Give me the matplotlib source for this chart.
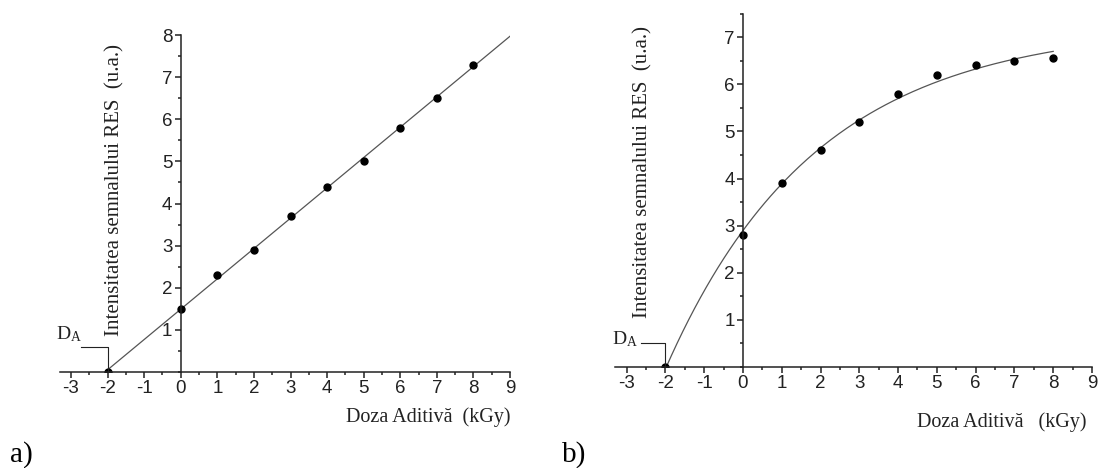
import numpy as np
import matplotlib
matplotlib.use("Agg")
import matplotlib.pyplot as plt
from matplotlib.ticker import MultipleLocator

# data
doza = [0, 1, 2, 3, 4, 5, 6, 7, 8]
res_a = [1.5, 2.3, 2.9, 3.7, 4.4, 5.0, 5.8, 6.5, 7.3]
res_b = [2.8, 3.9, 4.6, 5.2, 5.8, 6.2, 6.4, 6.5, 6.55]
doza_aditiva = -2.0          # extrapolated D_A (x where signal = 0)
x_ticks = [-3, -2, -1, 0, 1, 2, 3, 4, 5, 6, 7, 8, 9]
y_ticks_a = [1, 2, 3, 4, 5, 6, 7, 8]
y_ticks_b = [1, 2, 3, 4, 5, 6, 7]

plt.rcParams['mathtext.fontset'] = 'stix'
plt.rcParams['axes.unicode_minus'] = False
SANS = 'Liberation Sans'
SERIF = 'Liberation Serif'
LINE_C = '#555555'
INK = '#222222'

fig = plt.figure(figsize=(10.99, 4.68), dpi=100)
ax_a = fig.add_axes([0.0546, 0.2051, 0.4095, 0.720])
ax_b = fig.add_axes([0.5596, 0.2158, 0.434, 0.755])


def style_axes(ax, ymax, yticks):
    ax.set_xlim(-3.3, 9)
    ax.set_ylim(0, ymax)
    for s in ['top', 'right']:
        ax.spines[s].set_visible(False)
    ax.spines['left'].set_position(('data', 0))
    ax.spines['bottom'].set_position(('data', 0))
    for s in ['left', 'bottom']:
        ax.spines[s].set_linewidth(1.1)
        ax.spines[s].set_color(INK)
    ax.set_xticks(x_ticks)
    ax.set_yticks(yticks)
    ax.xaxis.set_minor_locator(MultipleLocator(0.5))
    ax.yaxis.set_minor_locator(MultipleLocator(0.5))
    ax.tick_params(which='major', direction='out', length=4, width=1.1,
                   color=INK, labelsize=13.5, pad=2)
    ax.tick_params(which='minor', direction='out', length=2.5, width=1.1,
                   color=INK)
    for lab in ax.get_xticklabels() + ax.get_yticklabels():
        lab.set_family(SANS)
        lab.set_color(INK)
    ax.patch.set_alpha(0)


def mark_da(ax, text_x, text_y, bracket_x, bracket_y):
    ax.text(text_x, text_y, r'D$_{\mathregular{A}}$', family=SERIF,
            fontsize=14, color=INK, ha='left', va='baseline', clip_on=False)
    ax.plot([bracket_x, doza_aditiva, doza_aditiva], [bracket_y, bracket_y, 0],
            color=INK, lw=0.8, clip_on=False)


# ---- panel a: linear fit including the extrapolated point
xa = np.array([doza_aditiva] + doza)
ya = np.array([0.0] + res_a)
k, b0 = np.polyfit(xa, ya, 1)
xl = np.array([doza_aditiva, 9])
ax_a.plot(xl, k * xl + b0, color=LINE_C, lw=0.9)
ax_a.plot(xa, ya, 'o', color='black', ms=5)
style_axes(ax_a, 8, y_ticks_a)
mark_da(ax_a, -3.42, 0.78, -2.72, 0.59)
ax_a.set_ylabel('Intensitatea semnalului RES  (u.a.)', family=SERIF,
                fontsize=15, color=INK)
ax_a.yaxis.set_label_coords(0.144, 0.54)
ax_a.text(9, -1.07, 'Doza Aditivă  (kGy)', family=SERIF, fontsize=14.5,
          ha='right', va='center', color=INK)

# ---- panel b: saturating exponential y = A - B*exp(-x/t)
xb = np.array([doza_aditiva] + doza)
yb = np.array([0.0] + res_b)
best = None
for t in np.linspace(1, 10, 901):
    M = np.column_stack([np.ones_like(xb), -np.exp(-xb / t)])
    coef, *_ = np.linalg.lstsq(M, yb, rcond=None)
    err = np.sum((M @ coef - yb) ** 2)
    if best is None or err < best[0]:
        best = (err, coef, t)
_, (A, B), t_fit = best
xc = np.linspace(doza_aditiva, 8, 200)
ax_b.plot(xc, A - B * np.exp(-xc / t_fit), color=LINE_C, lw=0.9)
ax_b.plot(xb, yb, 'o', color='black', ms=5)
style_axes(ax_b, 7.5, y_ticks_b)
mark_da(ax_b, -3.37, 0.49, -2.63, 0.51)
ax_b.set_ylabel('Intensitatea semnalului RES  (u.a.)', family=SERIF,
                fontsize=15, color=INK)
ax_b.yaxis.set_label_coords(0.078, 0.552)
ax_b.text(8.85, -1.17, 'Doza Aditivă   (kGy)', family=SERIF, fontsize=14.5,
          ha='right', va='center', color=INK)

fig.text(0.009, 0.014, 'a)', family=SERIF, fontsize=21, ha='left', va='baseline')
fig.text(0.511, 0.014, 'b)', family=SERIF, fontsize=21, ha='left', va='baseline')

fig.savefig('out.png', dpi=100)
